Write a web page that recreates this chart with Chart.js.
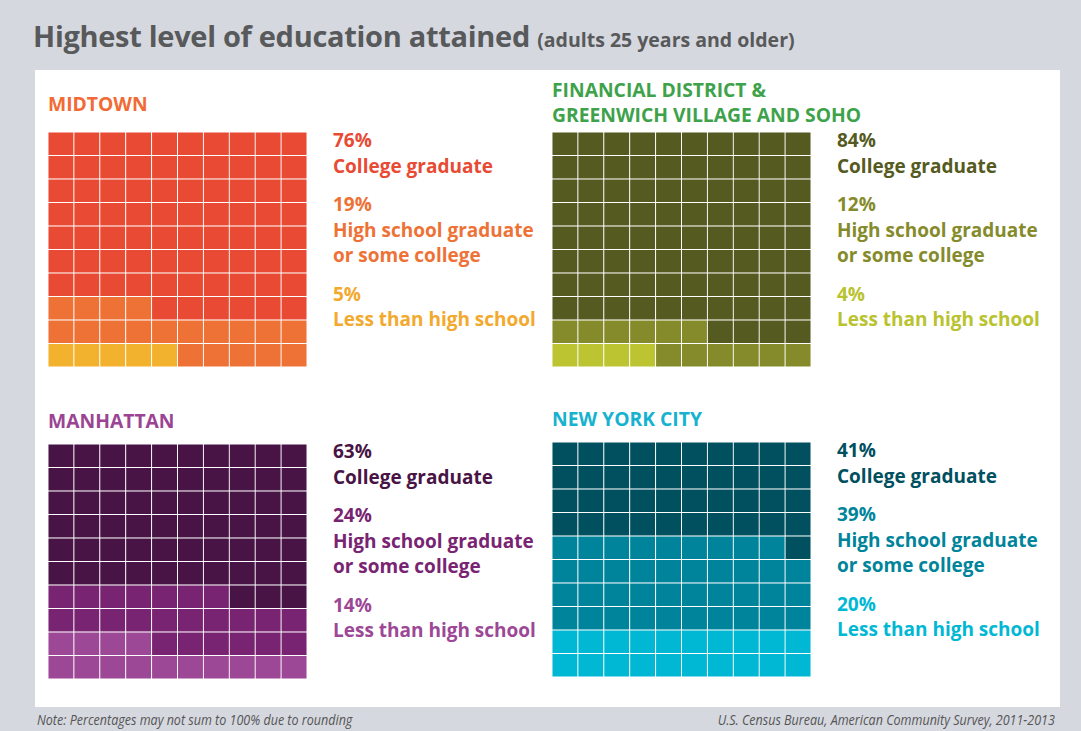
<!DOCTYPE html>
<html>
<head>
<meta charset="utf-8">
<script src="https://cdn.jsdelivr.net/npm/chart.js@4"></script>
<style>
  body { margin: 0; width: 1081px; height: 731px; background: #d5d8df; font-family: "Open Sans", "Noto Sans", sans-serif; position: relative; overflow: hidden; }
  #title { position: absolute; left: 33px; top: 16px; font-size: 29px; font-weight: 700; color: #58595b; letter-spacing: -0.3px; white-space: nowrap; }
  #title small { font-size: 19.5px; letter-spacing: 0; }
  #panel { position: absolute; left: 35px; top: 70px; width: 1025px; height: 637px; background: #fff; }
  .area { position: absolute; font-size: 19.3px; font-weight: 700; line-height: 25px; white-space: nowrap; }
  .waffle { position: absolute; }
  .info { position: absolute; font-size: 19px; font-weight: 700; line-height: 25.5px; white-space: nowrap; }
  .info div + div.pct { margin-top: 13px; }
  .note { position: absolute; top: 709px; font-family: "Open Sans", sans-serif; font-style: italic; font-size: 15px; color: #555; white-space: nowrap; transform: scaleX(0.835); }
</style>
</head>
<body>
<div id="title">Highest level of education attained <small>(adults 25 years and older)</small></div>
<div id="panel"></div>
<div class="note" style="left:37px; transform-origin: left top;">Note: Percentages may not sum to 100% due to rounding</div>
<div class="note" style="right:26px; transform-origin: right top;">U.S. Census Bureau, American Community Survey, 2011-2013</div>
<script>
// Education levels, top of the waffle first
const levels = ["College graduate", "High school graduate<br>or some college", "Less than high school"];
const areaNames = ["MIDTOWN", "FINANCIAL DISTRICT &amp;<br>GREENWICH VILLAGE AND SOHO", "MANHATTAN", "NEW YORK CITY"];

// Printed percentages
const midtownPct = [76, 19, 5];
const fidiPct = [84, 12, 4];
const manhattanPct = [63, 24, 14];
const nycPct = [41, 39, 20];

// Squares actually filled in each 10x10 grid
const midtownCells = [76, 19, 5];
const fidiCells = [84, 12, 4];
const manhattanCells = [63, 23, 14];
const nycCells = [41, 39, 20];

const columns = ["1", "2", "3", "4", "5", "6", "7", "8", "9", "10"];

const areas = [
  { name: areaNames[0], pct: midtownPct, cells: midtownCells, title: "#f26a35",
    colors: ["#e84a33", "#ee7236", "#f2b22d"], text: ["#e84a33", "#ee7236", "#f2a92d"],
    left: 48, top: 132, nameTop: 91, infoLeft: 333, infoTop: 128 },
  { name: areaNames[1], pct: fidiPct, cells: fidiCells, title: "#3ea24b",
    colors: ["#545a20", "#858b2b", "#bcc531"], text: ["#545a20", "#858b2b", "#b9c22f"],
    left: 552, top: 132, nameTop: 77, infoLeft: 837, infoTop: 128 },
  { name: areaNames[2], pct: manhattanPct, cells: manhattanCells, title: "#9b4494",
    colors: ["#471445", "#782472", "#9c4896"], text: ["#471445", "#782472", "#9c4896"],
    left: 48, top: 444, nameTop: 408, infoLeft: 333, infoTop: 439 },
  { name: areaNames[3], pct: nycPct, cells: nycCells, title: "#16b2d0",
    colors: ["#00505f", "#00849b", "#00b8d4"], text: ["#00505f", "#00849b", "#00b8d4"],
    left: 552, top: 442, nameTop: 406, infoLeft: 837, infoTop: 438 },
];

areas.forEach((a, n) => {
  const name = document.createElement("div");
  name.className = "area";
  name.style.left = a.left + "px";
  name.style.top = a.nameTop + "px";
  name.style.color = a.title;
  name.innerHTML = a.name;
  document.body.appendChild(name);

  const info = document.createElement("div");
  info.className = "info";
  info.style.left = a.infoLeft + "px";
  info.style.top = a.infoTop + "px";
  let html = "";
  for (let i = 0; i < 3; i++) {
    html += '<div class="pct" style="color:' + a.text[i] + '">' + a.pct[i] + "%</div>";
    html += '<div style="color:' + a.text[i] + '">' + levels[i] + "</div>";
  }
  info.innerHTML = html;
  document.body.appendChild(info);

  const canvas = document.createElement("canvas");
  canvas.className = "waffle";
  canvas.width = 259;
  canvas.height = 235;
  canvas.style.left = a.left - 0.5 + "px";
  canvas.style.top = a.top - 0.5 + "px";
  document.body.appendChild(canvas);

  // fill from bottom-left, row by row: less than HS, then HS, then college
  const less = a.cells[2];
  const hs = a.cells[1];
  const datasets = [];
  for (let row = 0; row < 10; row++) {
    const bg = columns.map((c, col) => {
      const k = row * 10 + col;
      if (k < less) return a.colors[2];
      if (k < less + hs) return a.colors[1];
      return a.colors[0];
    });
    datasets.push({
      label: "row " + (row + 1),
      data: columns.map(() => 1),
      backgroundColor: bg,
      borderColor: "rgba(255,255,255,0.9)",
      borderWidth: 0.8,
      borderSkipped: false,
      barPercentage: 1,
      categoryPercentage: 1,
    });
  }

  new Chart(canvas, {
    type: "bar",
    data: { labels: columns, datasets: datasets },
    options: {
      responsive: false,
      animation: false,
      layout: { padding: 0 },
      plugins: { legend: { display: false }, tooltip: { enabled: false } },
      scales: {
        x: { stacked: true, display: false },
        y: { stacked: true, display: false, min: 0, max: 10 },
      },
    },
  });
});
</script>
</body>
</html>
